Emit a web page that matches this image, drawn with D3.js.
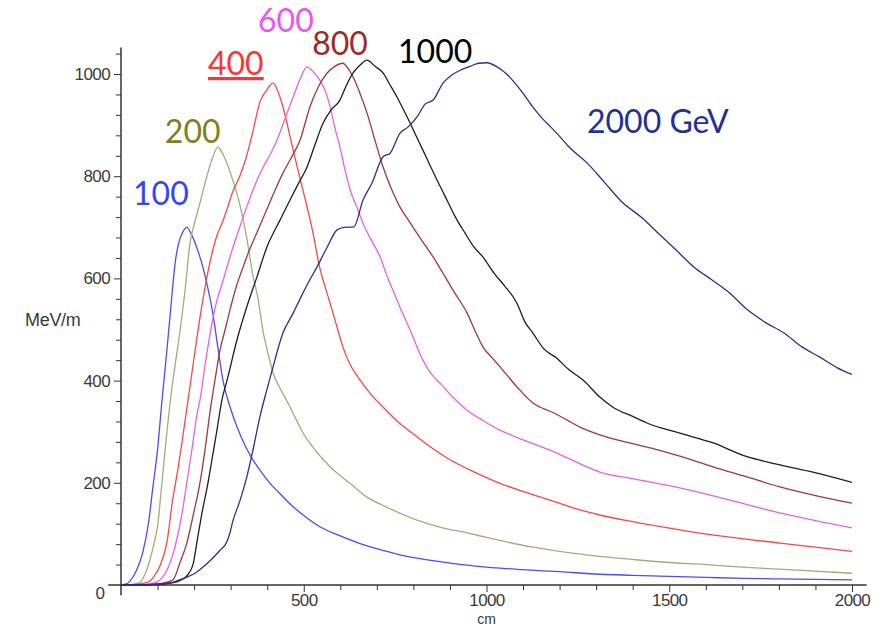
<!DOCTYPE html>
<html>
<head>
<meta charset="utf-8">
<script src="https://cdn.jsdelivr.net/npm/d3@7"></script>
<style>
  body { margin: 0; background: #fff; }
  .tick text { font-family: "Liberation Sans Narrow", "Arial Narrow", "Liberation Sans", sans-serif; font-size: 17px; letter-spacing: -0.6px; fill: #3a3a3a; }
  .tick line { stroke: #333; }
</style>
</head>
<body>
<script>

// energy deposit per shower energy, [cm, MeV/m]
var e100 = [[0,0],[15,2],[25,8],[40,25],[50,42],[60,65],[75,120],[87,190],[100,265],[112,360],[125,455],[134,525],[150,640],[160,675],[170,692],[180,700],[190,690],[205,665],[224,622],[238,580],[252,528],[265,465],[279,400],[300,345],[317,310],[340,272],[361,245],[385,220],[408,199],[440,175],[471,153],[500,136],[544,114],[600,96],[650,82],[700,71],[763,59],[830,50],[900,43],[1000,35],[1100,30],[1200,26],[1310,21],[1400,19],[1500,17],[1600,15],[1700,13],[1800,12],[1900,11],[2000,10]];
var e200 = [[0,0],[30,1],[52,5],[65,20],[79,49],[90,80],[100,115],[112,200],[125,295],[134,355],[150,440],[161,495],[175,575],[189,670],[200,705],[215,745],[235,800],[250,835],[265,857],[275,848],[290,825],[306,792],[325,745],[344,680],[361,605],[375,560],[389,495],[400,460],[416,415],[435,385],[454,360],[475,330],[500,295],[525,270],[550,248],[580,226],[625,200],[673,172],[725,153],[810,127],[875,113],[947,102],[1000,93],[1127,74],[1200,66],[1310,56],[1400,50],[1500,44],[1620,39],[1700,35],[1800,31],[1900,27],[2000,23]];
var e400 = [[0,0],[40,1],[60,3],[79,8],[95,22],[107,38],[126,85],[142,170],[153,215],[167,280],[181,350],[197,430],[210,495],[224,558],[240,620],[263,685],[275,705],[290,735],[306,770],[325,800],[344,840],[360,885],[380,945],[400,970],[416,982],[430,965],[443,936],[457,895],[471,851],[490,795],[509,740],[525,690],[544,620],[560,580],[580,532],[595,495],[607,466],[625,434],[654,401],[685,372],[717,348],[760,318],[810,290],[855,266],[900,245],[970,220],[1037,199],[1100,183],[1174,166],[1256,147],[1310,137],[1400,124],[1529,108],[1650,95],[1803,82],[1900,74],[2000,66]];
var e600 = [[0,0],[60,1],[85,3],[107,10],[125,28],[140,55],[153,90],[167,140],[180,200],[194,265],[208,335],[216,362],[230,430],[244,493],[260,550],[279,595],[298,642],[320,690],[344,740],[365,780],[389,818],[410,845],[427,871],[450,915],[471,955],[490,990],[509,1014],[525,1005],[544,988],[560,965],[572,936],[585,895],[599,857],[613,812],[627,773],[645,740],[662,708],[687,672],[709,642],[725,610],[744,577],[763,544],[791,499],[826,440],[850,412],[873,395],[910,366],[947,342],[990,322],[1037,303],[1100,284],[1174,264],[1256,237],[1310,221],[1400,208],[1529,190],[1650,169],[1803,141],[1900,126],[2000,112]];
var e800 = [[0,0],[80,1],[110,3],[142,10],[161,43],[180,82],[197,135],[216,200],[230,265],[243,336],[258,405],[271,460],[285,500],[298,538],[316,585],[334,622],[344,642],[372,690],[399,735],[420,770],[443,806],[465,835],[490,871],[517,936],[540,975],[564,1002],[585,1015],[607,1021],[620,1012],[635,994],[655,960],[673,924],[695,870],[717,818],[740,775],[763,740],[790,710],[810,688],[832,665],[854,642],[881,610],[910,575],[947,532],[970,495],[990,466],[1015,445],[1037,427],[1083,388],[1127,356],[1180,338],[1220,323],[1256,309],[1310,294],[1439,270],[1529,252],[1620,231],[1710,212],[1803,192],[1900,175],[2000,160]];
var e1000 = [[0,0],[100,1],[140,4],[165,10],[180,18],[197,40],[208,85],[220,135],[238,200],[250,250],[263,305],[276,362],[290,400],[317,479],[344,544],[372,603],[399,661],[435,714],[462,753],[485,785],[509,818],[530,860],[553,904],[575,930],[599,949],[615,975],[635,1002],[655,1018],[673,1027],[695,1015],[717,1002],[735,980],[755,955],[773,930],[791,904],[808,878],[826,851],[845,822],[865,792],[892,753],[915,720],[941,689],[965,662],[990,642],[1021,610],[1050,585],[1083,552],[1105,515],[1127,493],[1157,462],[1190,445],[1226,421],[1264,401],[1310,368],[1346,348],[1400,330],[1439,317],[1529,297],[1620,278],[1713,251],[1803,235],[1893,221],[2000,201]];
var e2000 = [[0,0],[60,0],[100,2],[134,4],[175,14],[200,22],[224,35],[250,52],[271,68],[290,85],[298,102],[306,125],[326,166],[344,211],[361,264],[380,329],[399,382],[416,427],[443,493],[471,532],[490,560],[511,590],[536,622],[564,661],[591,695],[610,700],[637,701],[662,753],[687,787],[717,838],[736,845],[763,884],[785,896],[810,916],[832,941],[854,949],[881,982],[905,998],[930,1008],[955,1015],[979,1021],[1000,1022],[1029,1014],[1055,1000],[1078,982],[1100,962],[1127,935],[1150,915],[1176,896],[1200,878],[1226,857],[1275,826],[1324,787],[1373,748],[1423,720],[1469,689],[1518,656],[1568,622],[1617,597],[1666,571],[1715,538],[1765,513],[1814,493],[1863,466],[1912,446],[1960,425],[2000,412]];

var series = [e100, e200, e400, e600, e800, e1000, e2000];
var labels = ["100", "200", "400", "600", "800", "1000", "2000 GeV"];

// tick labels
var xTicks = [500, 1000, 1500, 2000];
var yTicks = [200, 400, 600, 800, 1000];

// styling, kept apart from the data
var lineColors = ["#4b4bff", "#aaa87c", "#ff4444", "#ee5cee", "#aa3535", "#1e1e1e", "#2e2e94"];
var labelColors = ["#3344ff", "#808020", "#ff3333", "#ee55ee", "#a02828", "#000000", "#1f2f9c"];
// where the labels sit, in data units [cm, MeV/m] (left edge, baseline)
var labelSpots = [[33,744],[120,865],[238,998],[375,1082],[523,1037],[758,1022],[1275,885]];

var w = 894;
var h = 627;

var svg = d3.select("body")
            .append("svg")
            .attr("width", w)
            .attr("height", h);

var xScale = d3.scaleLinear()
               .domain([0, 2000])
               .range([121, 852]);

var yScale = d3.scaleLinear()
               .domain([0, 1000])
               .range([585, 74]);

// minor ticks
var xMinor = d3.range(100, 2001, 100).filter(d => d % 500 != 0);
var yMinor = d3.range(40, 1041, 40).filter(d => d % 200 != 0);

// y axis
svg.append("g")
   .attr("transform", `translate(${xScale(0)},0)`)
   .call(d3.axisLeft(yScale).tickValues(yMinor).tickSize(5).tickFormat(""))
   .call(g => g.select(".domain").remove());

svg.append("g")
   .attr("transform", `translate(${xScale(0)},0)`)
   .call(d3.axisLeft(yScale).tickValues(yTicks).tickSize(7).tickPadding(4).tickSizeOuter(0).tickFormat(d3.format("d")))
   .call(g => g.select(".domain").remove());

// x axis
svg.append("g")
   .attr("transform", `translate(0,${yScale(0)})`)
   .call(d3.axisBottom(xScale).tickValues(xMinor).tickSize(5).tickFormat(""))
   .call(g => g.select(".domain").remove());

svg.append("g")
   .attr("transform", `translate(0,${yScale(0)})`)
   .call(d3.axisBottom(xScale).tickValues(xTicks).tickSize(7).tickPadding(2).tickSizeOuter(0).tickFormat(d3.format("d")))
   .call(g => g.select(".domain").remove());

// axis lines, running a bit past the origin like the original
svg.append("line")
   .attr("x1", xScale(-35)).attr("x2", xScale(2040))
   .attr("y1", yScale(0)).attr("y2", yScale(0))
   .attr("stroke", "#333").attr("stroke-width", 1.5);

svg.append("line")
   .attr("x1", xScale(0)).attr("x2", xScale(0))
   .attr("y1", yScale(-20)).attr("y2", yScale(1052))
   .attr("stroke", "#333").attr("stroke-width", 1.5);

// shared origin label
svg.append("text")
   .attr("x", xScale(-57))
   .attr("y", yScale(-15))
   .attr("text-anchor", "middle")
   .attr("dy", "0.35em")
   .style("font-family", "'Liberation Sans Narrow', 'Liberation Sans', sans-serif")
   .style("font-size", "17px")
   .style("fill", "#3a3a3a")
   .text("0");

// axis titles
svg.append("text")
   .attr("x", 25)
   .attr("y", yScale(520))
   .attr("dy", "0.35em")
   .style("font-family", "'Liberation Sans', sans-serif")
   .style("font-size", "18px")
   .style("letter-spacing", "-0.3px")
   .style("fill", "#3a3a3a")
   .text("MeV/m");

svg.append("text")
   .attr("x", xScale(1000))
   .attr("y", 623.5)
   .attr("text-anchor", "middle")
   .style("font-family", "'Liberation Sans', sans-serif")
   .style("font-size", "14px")
   .style("fill", "#3a3a3a")
   .text("cm");

// the curves
var line = d3.line()
             .x(d => xScale(d[0]))
             .y(d => yScale(d[1]))
             .curve(d3.curveMonotoneX);

svg.selectAll("path.curve")
   .data(series)
   .enter()
   .append("path")
   .attr("class", "curve")
   .attr("d", line)
   .attr("fill", "none")
   .attr("stroke", (d, i) => lineColors[i])
   .attr("stroke-width", 1.3);

// energy labels
svg.selectAll("text.energy")
   .data(labels)
   .enter()
   .append("text")
   .attr("class", "energy")
   .attr("x", (d, i) => xScale(labelSpots[i][0]))
   .attr("y", (d, i) => yScale(labelSpots[i][1]))
   .style("font-family", "Lato, 'Open Sans', sans-serif")
   .style("font-size", "32px")
   .style("fill", (d, i) => labelColors[i])
   .style("text-decoration", (d, i) => d == "400" ? "underline" : "none")
   .text(d => d);

</script>
</body>
</html>
